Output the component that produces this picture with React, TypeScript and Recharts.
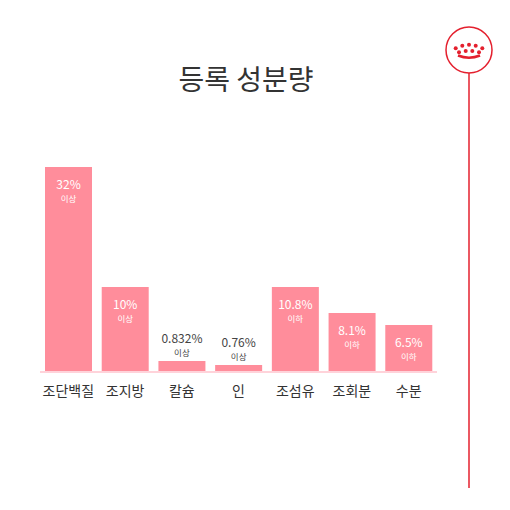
import { BarChart, Bar, XAxis, YAxis, LabelList } from "recharts";

// 성분 이름
const categories = ["조단백질", "조지방", "칼슘", "인", "조섬유", "조회분", "수분"];
// 막대 높이 (그림에서 읽은 표시 높이, 값에 비례하지 않음)
const barHeights = [205, 85, 11, 7, 85, 59, 47];
// 막대 위 라벨
const valueLabels = ["32%", "10%", "0.832%", "0.76%", "10.8%", "8.1%", "6.5%"];
const qualifiers = ["이상", "이상", "이상", "이상", "이하", "이하", "이하"];

const data = categories.map((name, i) => ({
  name,
  height: barHeights[i],
  value: valueLabels[i],
  qualifier: qualifiers[i],
}));

const FONT = "'Noto Sans CJK KR', 'Noto Sans', sans-serif";
const RED = "#e4202e";

const renderLabel = (props: any) => {
  const { x, y, width, height, index } = props;
  const d = data[index];
  const cx = x + width / 2;
  const inside = height > 30;
  const top = inside ? y + 19 : y - 21;
  const color = inside ? "#ffffff" : "#444444";
  return (
    <g>
      <text x={cx} y={top} textAnchor="middle" fill={color} fontSize={12} fontFamily={FONT}
        dominantBaseline="middle">
        {d.value}
      </text>
      <text x={cx} y={top + 14} textAnchor="middle" fill={color} fontSize={8.5} fontFamily={FONT}
        dominantBaseline="middle">
        {d.qualifier}
      </text>
    </g>
  );
};

function Logo() {
  const row1 = [[455.7, 48.3], [462.3, 45.7], [469, 44.7], [475.7, 45.7], [482.3, 48.3]];
  const row2 = [[459, 52.3], [465.7, 51], [472.3, 51], [479, 52.3]];
  return (
    <svg width={510} height={510} style={{ position: "absolute", left: 0, top: 0, pointerEvents: "none" }}>
      <line x1={469} y1={73} x2={469} y2={488} stroke={RED} strokeWidth={1.5} />
      <circle cx={469} cy={50} r={23} fill="#fff" stroke={RED} strokeWidth={1.5} />
      {row1.map(([x, y], i) => (
        <circle key={"a" + i} cx={x} cy={y} r={2} fill={RED} />
      ))}
      {row2.map(([x, y], i) => (
        <circle key={"b" + i} cx={x} cy={y} r={2} fill={RED} />
      ))}
      <path d="M458 55.5 Q469 60 480 55.5" stroke={RED} strokeWidth={2.5} fill="none" />
    </svg>
  );
}

export default function App() {
  return (
    <div style={{ position: "absolute", left: 0, top: 0, width: 510, height: 510, background: "#fff" }}>
      <div
        style={{
          position: "absolute",
          top: 58,
          left: 0,
          width: 492,
          textAlign: "center",
          fontFamily: FONT,
          fontSize: 28,
          color: "#333",
          lineHeight: "40px",
        }}
      >
        등록 성분량
      </div>
      <div style={{ position: "absolute", left: 0, top: 0 }}>
        <BarChart
          width={510}
          height={510}
          data={data}
          margin={{ top: 167, right: 73, left: 40, bottom: 108 }}
          barCategoryGap={5}
        >
          <XAxis
            dataKey="name"
            axisLine={{ stroke: "#ffd3da", strokeWidth: 2 }}
            tickLine={false}
            tickMargin={8}
            height={30}
            tick={{ fill: "#333", fontSize: 14, fontFamily: FONT }}
          />
          <YAxis hide domain={[0, 205]} />
          <Bar dataKey="height" fill="#ff8d9b" isAnimationActive={false}>
            <LabelList dataKey="value" content={renderLabel} />
          </Bar>
        </BarChart>
      </div>
      <Logo />
    </div>
  );
}
